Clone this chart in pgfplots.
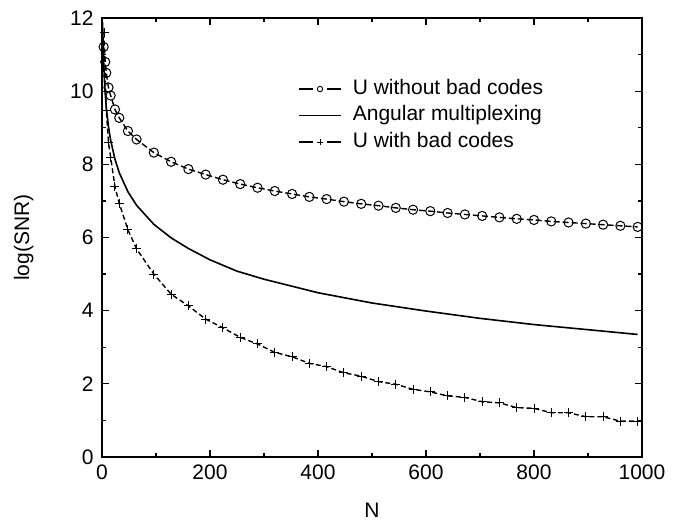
\documentclass[border=0pt]{standalone}
\usepackage{fontspec}
\setmainfont{Liberation Sans}
\usepackage{pgfplots}
\pgfplotsset{compat=1.18}
\begin{document}
\begin{tikzpicture}[x=1pt,y=1pt]
\useasboundingbox (-102,-66) rectangle (573,457);
\begin{axis}[at={(0,0)}, anchor=south west, scale only axis, width=540pt, height=439pt,
  xmin=0, xmax=1000, ymin=0, ymax=12,
  xtick={0,200,...,1000}, ytick={0,2,...,12},
  minor xtick={100,300,...,900}, minor ytick={1,3,...,11},
  tick align=inside, major tick length=7pt, minor tick length=4pt,
  axis line style={line width=1.6pt}, every tick/.style={line width=1.3pt,black},
  /pgf/number format/assume math mode=true,
  /pgf/number format/1000 sep={},
  ticklabel style={font=\fontsize{21}{25}\selectfont},
  xticklabel style={yshift=-4pt},
  yticklabel style={xshift=-5pt},
  xlabel={N}, ylabel={log(SNR)},
  xlabel style={font=\fontsize{21}{25}\selectfont, at={(axis description cs:0.5,-0.121)}, anchor=center},
  ylabel style={font=\fontsize{21}{25}\selectfont, at={(axis description cs:-0.145,0.5)}, anchor=center},
  legend style={at={(0.363,0.866)}, anchor=north west, draw=none, fill=none,
    font=\fontsize{21}{25}\selectfont, row sep=2.5pt, inner sep=0pt,
    nodes={inner sep=2pt, text depth=5pt, text height=15pt},
    /tikz/every odd column/.append style={column sep=9pt}},
  legend cell align=left,
]
\addplot[black, line width=1.4pt, dash pattern=on 6pt off 3pt, mark=o, mark size=4.6pt,
  mark options={solid, fill=white, line width=1pt},
  legend image code/.code={
    \draw[solid,line width=1.6pt] (0pt,0pt)--(14pt,0pt);
    \draw[solid,line width=1.6pt] (28pt,0pt)--(42pt,0pt);
    \draw[solid,line width=0.9pt,fill=white] (21pt,0pt) circle (2.7pt);}]
coordinates {
(3,11.21)(6,10.80)(8,10.50)(12,10.10)(16,9.88)(24,9.50)(32,9.27)(48,8.91)(64,8.68)
(96,8.32)(128,8.07)(160,7.87)(192,7.72)(224,7.58)(256,7.46)(288,7.36)(320,7.27)
(352,7.19)(384,7.11)(416,7.05)(448,6.98)(480,6.92)(512,6.87)(544,6.81)(576,6.76)
(608,6.72)(640,6.67)(672,6.63)(704,6.59)(736,6.55)(768,6.51)(800,6.48)(832,6.44)
(864,6.41)(896,6.38)(928,6.35)(960,6.32)(992,6.29)
};
\addlegendentry{U without bad codes}
\addplot[black, line width=1.6pt, no marks,
  legend image code/.code={
    \draw[solid,line width=1.6pt] (0pt,0pt)--(42pt,0pt);}]
coordinates {
(1,11.9)(2,11.34)(3,10.82)(4,10.45)(6,9.92)(8,9.55)(12,9.03)(16,8.66)(24,8.14)
(32,7.77)(48,7.25)(64,6.88)(96,6.36)(128,5.99)(160,5.70)(200,5.39)(250,5.08)
(300,4.86)(400,4.49)(500,4.21)(600,3.99)(700,3.79)(800,3.62)(900,3.48)(992,3.35)
};
\addlegendentry{Angular multiplexing}
\addplot[black, line width=1.4pt, dash pattern=on 5pt off 3pt, mark=+, mark size=4.5pt,
  mark options={solid, line width=1pt},
  legend image code/.code={
    \draw[solid,line width=1.6pt] (0pt,0pt)--(14pt,0pt);
    \draw[solid,line width=1.6pt] (28pt,0pt)--(42pt,0pt);
    \draw[solid,line width=0.9pt] (18.3pt,0pt)--(23.7pt,0pt) (21pt,-2.7pt)--(21pt,2.7pt);}]
coordinates {
(4,11.6)(8,9.48)(12,8.6)(16,8.2)(24,7.39)(32,6.93)(48,6.21)(64,5.69)(96,5.0)
(128,4.45)(160,4.13)(192,3.77)(224,3.53)(256,3.27)(288,3.09)(320,2.86)(352,2.74)
(384,2.56)(416,2.47)(448,2.30)(480,2.21)(512,2.06)(544,1.99)(576,1.85)(608,1.78)
(640,1.67)(672,1.63)(704,1.51)(736,1.48)(768,1.35)(800,1.33)(832,1.21)(864,1.21)
(896,1.10)(928,1.10)(960,0.98)(992,0.98)
};
\addlegendentry{U with bad codes}
\end{axis}
\end{tikzpicture}
\end{document}
